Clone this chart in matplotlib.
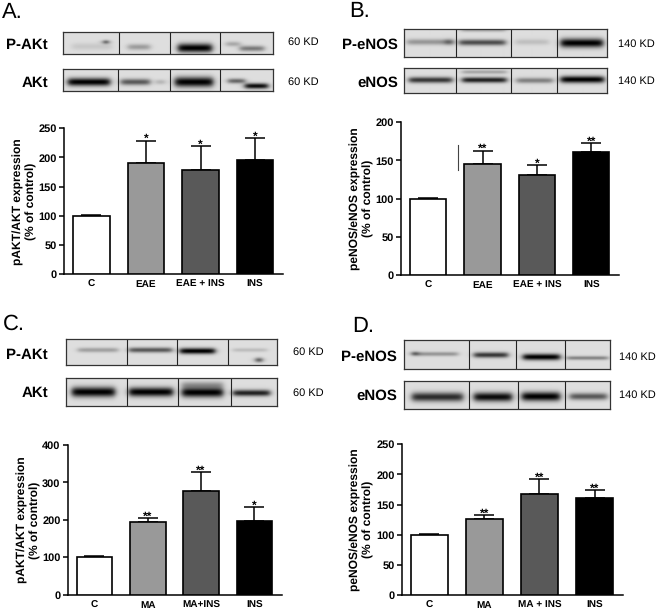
#!/usr/bin/python
# -*- coding: utf-8 -*-

import numpy as np
import matplotlib
matplotlib.use( 'Agg' )
import matplotlib.pyplot as plt

plt.rcParams['font.family'] = ['Liberation Sans', 'DejaVu Sans']
plt.rcParams['text.hinting'] = 'no_hinting'
plt.rcParams['text.hinting_factor'] = 1

W , H = 660 , 612

# bar values
labels_a = ['C', 'EAE', 'EAE + INS', 'INS']
means_a = [100, 191, 178, 196]
tops_a = [102, 229, 219, 233]
stars_a = ['', '*', '*', '*']

labels_b = ['C', 'EAE', 'EAE + INS', 'INS']
means_b = [100, 145, 131, 161]
tops_b = [101, 163, 144, 173]
stars_b = ['', '**', '*', '**']

labels_c = ['C', 'MA', 'MA+INS', 'INS']
means_c = [100, 194, 278, 197]
tops_c = [103, 205, 328, 233]
stars_c = ['', '**', '**', '*']

labels_d = ['C', 'MA', 'MA + INS', 'INS']
means_d = [100, 126, 168, 161]
tops_d = [101, 133, 193, 174]
stars_d = ['', '**', '**', '**']

colors = ['white', '#999999', '#595959', 'black']

# blot bands: x start, x end, y centre, half thickness, darkness (figure pixels)
bands_a1 = [(72, 112, 46.5, 3.5, .1), (128, 150, 47, 3, .3), (178, 212, 48, 4.5, 1.), (226, 240, 44, 2.5, .25),
            (240, 264, 48.5, 2.8, .45), (104, 108, 42, 2, .9)]
bands_a2 = [(68, 110, 82, 4, 1.), (121, 150, 82, 3.2, .6), (156, 165, 82, 2.5, .2), (175, 213, 82, 5, 1.),
            (228, 245, 81, 2.5, .55), (245, 268, 86, 2.8, .95)]
bands_b1 = [(407, 453, 42, 3, .32), (445, 453, 42, 3, .3), (459, 505, 42.5, 3, .65), (461, 505, 30, 2, .25),
            (515, 548, 42, 3, .14), (560, 602, 43, 4.5, 1.)]
bands_b2 = [(409, 452, 80, 3, .75), (462, 506, 80, 2.8, .85), (462, 506, 72, 2, .25), (516, 552, 80.5, 2.8, .42),
            (560, 603, 79.5, 3.5, 1.)]
bands_c1 = [(78, 118, 350, 2.4, .28), (129, 172, 350, 2.6, .6), (180, 215, 351, 3, 1.), (233, 267, 350, 2, .15),
            (256, 262, 360, 2.4, .75)]
bands_c2 = [(72, 115, 392, 5, 1.), (129, 173, 392, 4.6, 1.), (182, 223, 392.5, 4.8, 1.), (182, 223, 385, 3.6, .3),
            (233, 270, 393, 3.2, .85)]
bands_d1 = [(412, 458, 354, 2.2, .32), (412, 418, 353.5, 2.2, .4), (474, 508, 355, 2.8, .75), (523, 560, 357, 3.2, 1.),
            (567, 608, 358, 2, .4)]
bands_d2 = [(412, 463, 397, 4.6, .8), (474, 512, 397, 4.6, .95), (522, 560, 396.5, 4.6, 1.), (570, 607, 396.5, 3.5, .6)]

def px_axes( x0 , y0 , x1 , y1 ) :
    return plt.gcf().add_axes( [x0 / W, 1 - y1 / H, (x1 - x0) / W, (y1 - y0) / H] )

def px_text( x , y , s , **kw ) :
    plt.gcf().text( x / W , 1 - y / H , s , **kw )

def draw_blot( x0 , y0 , x1 , y1 , dividers , bands ) :
    ax = px_axes( x0 , y0 , x1 , y1 )
    xx , yy = np.meshgrid( np.arange( x0 , x1 ) + .5 , np.arange( y0 , y1 ) + .5 )
    dark = np.zeros( xx.shape )
    for b0 , b1 , yc , t , d in bands :
        win = .5 * ( np.tanh( ( xx - b0 ) / 3.5 ) - np.tanh( ( xx - b1 ) / 3.5 ) )
        dark += d * win * np.exp( -( ( yy - yc ) / t ) ** 2 )
    image = 0.87 - 0.87 * np.clip( dark , 0 , 1 )
    ax.imshow( image , cmap = 'gray' , vmin = 0 , vmax = 1 , aspect = 'auto' , interpolation = 'bilinear' ,
               extent = ( x0 , x1 , y1 , y0 ) )
    for d in dividers :
        ax.axvline( d , color = '#222222' , lw = .8 )
    ax.set_xticks( [] )
    ax.set_yticks( [] )
    for s in ax.spines.values() :
        s.set_linewidth( .9 )
        s.set_color( '#333333' )

def draw_bars( x0 , y_top , x1 , y_base , labels , means , tops , stars , ymax , step , ylabel , lab_x ) :
    ax = px_axes( x0 , y_top , x1 , y_base )
    pos = np.arange( 4 )
    upper = np.array( tops ) - np.array( means )
    ax.bar( pos , means , width = .67 , color = colors , edgecolor = 'black' , linewidth = 1.2 , zorder = 3 )
    ax.errorbar( pos , means , yerr = [np.zeros( 4 ), upper] , fmt = 'none' , ecolor = 'black' ,
                 elinewidth = 1.1 , capsize = 7 , capthick = 1.1 , zorder = 2 )
    for p , t , s in zip( pos , tops , stars ) :
        if s :
            ax.annotate( s , ( p , t ) , xytext = ( 0 , -3 ) , textcoords = 'offset points' , ha = 'center' ,
                         va = 'bottom' , fontsize = 8.6 , fontweight = 'bold' )
    ax.set_xlim( -.5 , 3.51 )
    ax.set_ylim( 0 , ymax )
    ax.set_yticks( np.arange( 0 , ymax + 1 , step ) )
    ax.set_xticks( pos )
    ax.set_xticklabels( labels , fontsize = 7.3 , fontweight = 'bold' )
    ax.tick_params( axis = 'x' , length = 0 , pad = 4 )
    ax.tick_params( axis = 'y' , length = 3.6 , width = 1.1 , pad = 1.5 , labelsize = 7.8 )
    for t in ax.get_yticklabels() :
        t.set_fontweight( 'bold' )
    ax.spines['top'].set_visible( False )
    ax.spines['right'].set_visible( False )
    ax.spines['left'].set_linewidth( 1.1 )
    ax.spines['bottom'].set_linewidth( 1.1 )
    px_text( lab_x , ( y_top + y_base ) / 2. , ylabel , rotation = 90 , ha = 'center' , va = 'center' , ma = 'center' ,
             fontsize = 8.7 , fontweight = 'bold' , linespacing = 1.25 )

fig = plt.figure( figsize = ( W / 100. , H / 100. ) , dpi = 100 )

# panel letters
for x , y , s in [(2, 18, 'A.'), (349, 17, 'B.'), (3, 330, 'C.'), (352, 332, 'D.')] :
    px_text( x , y , s , fontsize = 15.5 , va = 'baseline' )

# blots
draw_blot( 63 , 32 , 273 , 54 , [119, 170, 220] , bands_a1 )
draw_blot( 63 , 69 , 273 , 91 , [118, 170, 220] , bands_a2 )
draw_blot( 404 , 29 , 607 , 57 , [456, 511, 557] , bands_b1 )
draw_blot( 404 , 68 , 607 , 93 , [456, 511, 557] , bands_b2 )
draw_blot( 66 , 339 , 277 , 365 , [127, 177, 228] , bands_c1 )
draw_blot( 66 , 378 , 277 , 406 , [127, 178, 231] , bands_c2 )
draw_blot( 404 , 340 , 610 , 369 , [469, 516, 565] , bands_d1 )
draw_blot( 404 , 381 , 610 , 409 , [469, 518, 565] , bands_d2 )

# blot names and sizes
for x , y , s in [(48, 45, 'P-AKt'), (48, 83, 'AKt'), (398, 45, 'P-eNOS'), (398, 83, 'eNOS'),
                  (48, 355, 'P-AKt'), (48, 393, 'AKt'), (397, 357, 'P-eNOS'), (397, 396, 'eNOS')] :
    px_text( x , y , s , fontsize = 10.5 , fontweight = 'bold' , ha = 'right' , va = 'center' )
for x , y , s in [(288, 42, '60 KD'), (288, 82, '60 KD'), (618, 44, '140 KD'), (618, 81, '140 KD'),
                  (293, 352, '60 KD'), (293, 393, '60 KD'), (619, 357, '140 KD'), (619, 395, '140 KD')] :
    px_text( x , y , s , fontsize = 8.2 , va = 'center' )

# bar charts
draw_bars( 64 , 128.3 , 283 , 274.3 , labels_a , means_a , tops_a , stars_a , 250 , 50 ,
           'pAKT/AKT expression\n(% of control)' , 25 )
draw_bars( 401 , 122.3 , 619 , 275 , labels_b , means_b , tops_b , stars_b , 200 , 50 ,
           'peNOS/eNOS expression\n(% of control)' , 362 )
draw_bars( 67.7 , 445 , 281.7 , 594.7 , labels_c , means_c , tops_c , stars_c , 400 , 100 ,
           'pAKT/AKT expression\n(% of control)' , 29 )
draw_bars( 401.7 , 444.3 , 622.7 , 595 , labels_d , means_d , tops_d , stars_d , 250 , 50 ,
           'peNOS/eNOS expression\n(% of control)' , 362 )

# stray line left of the EAE bar in panel B
fig.add_artist( plt.Line2D( [457.7 / W, 457.7 / W] , [1 - 145 / H, 1 - 170 / H] , color = '#444444' , lw = .8 ) )

fig.savefig( 'out.png' , dpi = 100 )
